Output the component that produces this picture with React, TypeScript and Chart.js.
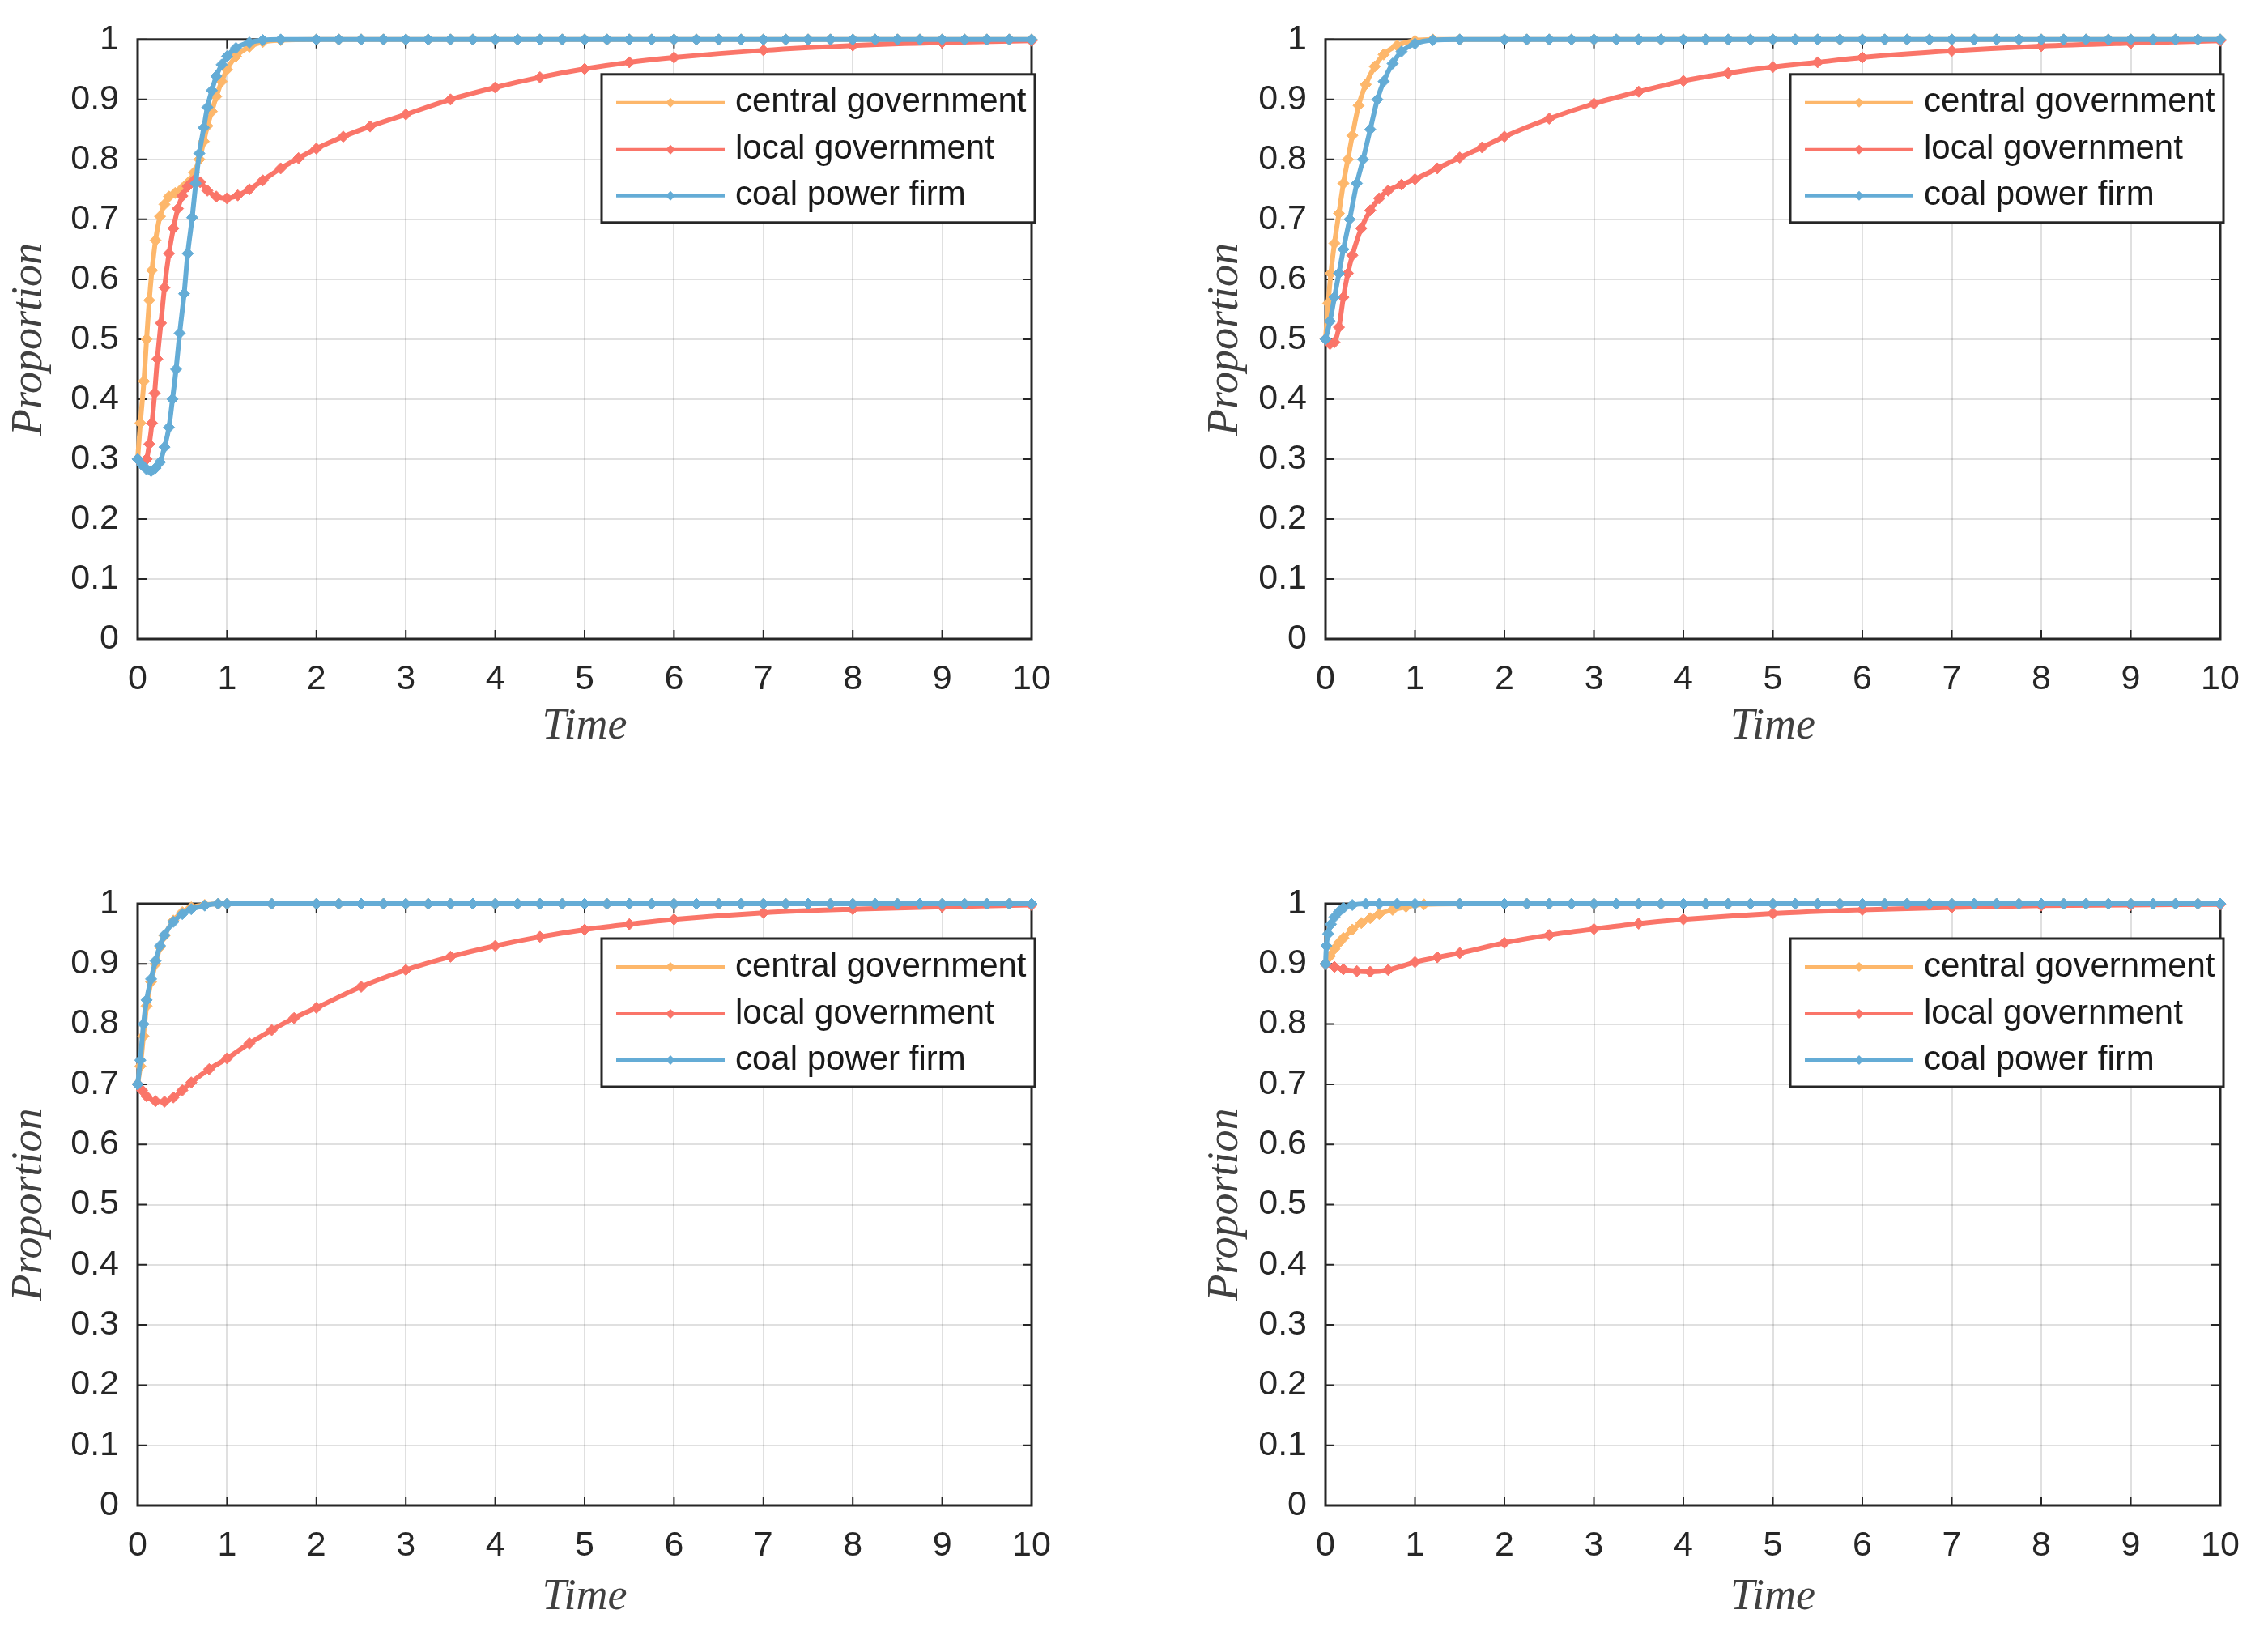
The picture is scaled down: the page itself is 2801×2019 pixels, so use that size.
import React, { useEffect, useRef } from 'react';
import { Chart, registerables } from 'chart.js';

Chart.register(...registerables);

// ---------- labels & ticks ----------
const SERIES_LABELS = ['central government', 'local government', 'coal power firm'];
const X_TICKS = [0, 1, 2, 3, 4, 5, 6, 7, 8, 9, 10];
const Y_TICKS = [0, 0.1, 0.2, 0.3, 0.4, 0.5, 0.6, 0.7, 0.8, 0.9, 1];
const Y_TICK_LABELS = ['0', '0.1', '0.2', '0.3', '0.4', '0.5', '0.6', '0.7', '0.8', '0.9', '1'];
const X_TITLE = 'Time';
const Y_TITLE = 'Proportion';

// ---------- shared flat tail (value 1 after convergence) ----------
const FLAT_T = [2, 2.25, 2.5, 2.75, 3, 3.25, 3.5, 3.75, 4, 4.25, 4.5, 4.75, 5, 5.25, 5.5, 5.75, 6, 6.25, 6.5, 6.75, 7, 7.25, 7.5, 7.75, 8, 8.25, 8.5, 8.75, 9, 9.25, 9.5, 9.75, 10];
const FLAT_V = [1, 1, 1, 1, 1, 1, 1, 1, 1, 1, 1, 1, 1, 1, 1, 1, 1, 1, 1, 1, 1, 1, 1, 1, 1, 1, 1, 1, 1, 1, 1, 1, 1];

// ---------- panel A (initial 0.3) ----------
const A_CG_T = [0, 0.03, 0.07, 0.1, 0.13, 0.16, 0.2, 0.25, 0.3, 0.35, 0.42, 0.5, 0.57, 0.63, 0.69, 0.74, 0.78, 0.83, 0.88, 0.94, 1.0, 1.1, 1.25, 1.4, 1.6];
const A_CG_V = [0.3, 0.36, 0.43, 0.5, 0.565, 0.615, 0.665, 0.705, 0.725, 0.738, 0.744, 0.752, 0.762, 0.778, 0.8, 0.83, 0.856, 0.88, 0.905, 0.93, 0.95, 0.972, 0.988, 0.996, 0.999];
const A_LG_T = [0, 0.05, 0.1, 0.13, 0.16, 0.19, 0.22, 0.26, 0.3, 0.35, 0.4, 0.45, 0.5, 0.56, 0.63, 0.7, 0.78, 0.88, 1.0, 1.12, 1.25, 1.4, 1.6, 1.8, 2.0, 2.3, 2.6, 3.0, 3.5, 4, 4.5, 5, 5.5, 6, 7, 8, 9, 10];
const A_LG_V = [0.3, 0.292, 0.3, 0.325, 0.36, 0.41, 0.467, 0.527, 0.586, 0.643, 0.685, 0.718, 0.739, 0.755, 0.765, 0.762, 0.748, 0.738, 0.735, 0.74, 0.75, 0.765, 0.785, 0.802, 0.818, 0.838, 0.855, 0.875, 0.9, 0.92, 0.937, 0.951, 0.962, 0.97, 0.982, 0.99, 0.995, 0.998];
const A_CF_T = [0, 0.05, 0.1, 0.15, 0.2, 0.25, 0.3, 0.35, 0.39, 0.43, 0.47, 0.52, 0.56, 0.61, 0.65, 0.69, 0.74, 0.78, 0.83, 0.88, 0.94, 1.0, 1.1, 1.25, 1.4, 1.6];
const A_CF_V = [0.3, 0.29, 0.283, 0.28, 0.285, 0.295, 0.32, 0.353, 0.4, 0.45, 0.51, 0.576, 0.643, 0.703, 0.76, 0.81, 0.853, 0.887, 0.915, 0.939, 0.958, 0.972, 0.986, 0.995, 0.999, 1];

// ---------- panel B (initial 0.5) ----------
const B_CG_T = [0, 0.03, 0.06, 0.1, 0.15, 0.2, 0.25, 0.3, 0.37, 0.45, 0.55, 0.65, 0.8, 1.0, 1.2, 1.5];
const B_CG_V = [0.5, 0.56, 0.61, 0.66, 0.71, 0.76, 0.8, 0.84, 0.89, 0.925, 0.955, 0.975, 0.99, 0.998, 1, 1];
const B_LG_T = [0, 0.05, 0.1, 0.15, 0.2, 0.25, 0.3, 0.4, 0.5, 0.6, 0.7, 0.85, 1.0, 1.25, 1.5, 1.75, 2, 2.5, 3, 3.5, 4, 4.5, 5, 5.5, 6, 7, 8, 9, 10];
const B_LG_V = [0.5, 0.492, 0.495, 0.52, 0.57, 0.61, 0.64, 0.685, 0.715, 0.735, 0.748, 0.758, 0.767, 0.785, 0.803, 0.82, 0.838, 0.868, 0.893, 0.913, 0.931, 0.944, 0.954, 0.962, 0.97, 0.981, 0.989, 0.994, 0.998];
const B_CF_T = [0, 0.05, 0.1, 0.15, 0.2, 0.27, 0.35, 0.42, 0.5, 0.58, 0.65, 0.75, 0.85, 1.0, 1.2, 1.5];
const B_CF_V = [0.5, 0.53, 0.57, 0.61, 0.65, 0.7, 0.76, 0.8, 0.85, 0.9, 0.93, 0.96, 0.98, 0.993, 0.999, 1];

// ---------- panel C (initial 0.7) ----------
const C_CG_T = [0, 0.03, 0.065, 0.1, 0.15, 0.2, 0.25, 0.3, 0.4, 0.5, 0.6, 0.75, 0.9, 1.0, 1.5];
const C_CG_V = [0.7, 0.73, 0.78, 0.83, 0.87, 0.9, 0.928, 0.947, 0.972, 0.986, 0.994, 0.998, 1, 1, 1];
const C_LG_T = [0, 0.05, 0.1, 0.2, 0.3, 0.4, 0.5, 0.6, 0.8, 1.0, 1.25, 1.5, 1.75, 2, 2.5, 3, 3.5, 4, 4.5, 5, 5.5, 6, 7, 8, 9, 10];
const C_LG_V = [0.7, 0.69, 0.68, 0.672, 0.671, 0.678, 0.69, 0.703, 0.725, 0.743, 0.768, 0.79, 0.81, 0.827, 0.862, 0.89, 0.912, 0.93, 0.945, 0.957, 0.966, 0.974, 0.985, 0.991, 0.995, 0.998];
const C_CF_T = [0, 0.03, 0.065, 0.1, 0.15, 0.2, 0.25, 0.3, 0.4, 0.5, 0.6, 0.75, 0.9, 1.0, 1.5];
const C_CF_V = [0.7, 0.74, 0.8, 0.84, 0.875, 0.905, 0.93, 0.948, 0.97, 0.983, 0.991, 0.997, 1, 1, 1];

// ---------- panel D (initial 0.9) ----------
const D_CG_T = [0, 0.05, 0.1, 0.15, 0.2, 0.3, 0.4, 0.5, 0.6, 0.75, 0.9, 1.1, 1.5];
const D_CG_V = [0.9, 0.913, 0.925, 0.935, 0.943, 0.957, 0.968, 0.976, 0.983, 0.99, 0.995, 0.999, 1];
const D_LG_T = [0, 0.1, 0.2, 0.35, 0.5, 0.7, 1.0, 1.25, 1.5, 2, 2.5, 3, 3.5, 4, 5, 6, 7, 8, 9, 10];
const D_LG_V = [0.9, 0.895, 0.891, 0.888, 0.887, 0.89, 0.903, 0.911, 0.918, 0.935, 0.948, 0.958, 0.967, 0.974, 0.984, 0.99, 0.994, 0.997, 0.998, 0.999];
const D_CF_T = [0, 0.01, 0.03, 0.06, 0.1, 0.15, 0.2, 0.3, 0.45, 0.6, 0.8, 1.0, 1.5];
const D_CF_V = [0.9, 0.93, 0.95, 0.966, 0.978, 0.987, 0.993, 0.998, 1, 1, 1, 1, 1];

// ---------- styles ----------
const COLORS = ['rgb(253,183,107)', 'rgb(250,117,105)', 'rgb(100,172,214)'];
const DRAW_ORDER = [2, 1, 0]; // blue on top
const TICK_FONT = { family: '"Liberation Sans", Arial, sans-serif', size: 43 };
const TITLE_FONT = { family: '"Liberation Serif", "Times New Roman", serif', size: 54, style: 'italic' as const };
const AXIS_COLOR = '#262626';

type PanelCfg = {
  left: number; top: number; w: number; h: number;
  pl: number; pt: number; pr: number; pb: number;
  yTitlePad: number; xTitlePad: number;
  series: [number[], number[]][];
};

const PANELS: PanelCfg[] = [
  { left: 0, top: 0, w: 1400, h: 1000, pl: 170, pt: 48, pr: 1274, pb: 789, yTitlePad: 4, xTitlePad: 70,
    series: [[A_CG_T.concat(FLAT_T), A_CG_V.concat(FLAT_V)], [A_LG_T, A_LG_V], [A_CF_T.concat(FLAT_T), A_CF_V.concat(FLAT_V)]] },
  { left: 1400, top: 0, w: 1401, h: 1000, pl: 237, pt: 48, pr: 1342, pb: 789, yTitlePad: 81, xTitlePad: 70,
    series: [[B_CG_T.concat(FLAT_T), B_CG_V.concat(FLAT_V)], [B_LG_T, B_LG_V], [B_CF_T.concat(FLAT_T), B_CF_V.concat(FLAT_V)]] },
  { left: 0, top: 1000, w: 1400, h: 1019, pl: 170, pt: 116, pr: 1274, pb: 859, yTitlePad: 4, xTitlePad: 14,
    series: [[C_CG_T.concat(FLAT_T), C_CG_V.concat(FLAT_V)], [C_LG_T, C_LG_V], [C_CF_T.concat(FLAT_T), C_CF_V.concat(FLAT_V)]] },
  { left: 1400, top: 1000, w: 1401, h: 1019, pl: 237, pt: 116, pr: 1342, pb: 859, yTitlePad: 81, xTitlePad: 14,
    series: [[D_CG_T.concat(FLAT_T), D_CG_V.concat(FLAT_V)], [D_LG_T, D_LG_V], [D_CF_T.concat(FLAT_T), D_CF_V.concat(FLAT_V)]] },
];

const boxPlugin = {
  id: 'matlabBox',
  beforeDatasetsDraw(chart: any) {
    const { ctx, chartArea: a, scales } = chart;
    const xs = scales.x, ys = scales.y;
    const L = 11;
    ctx.save();
    ctx.strokeStyle = AXIS_COLOR;
    ctx.lineWidth = 2;
    ctx.beginPath();
    xs.ticks.forEach((t: any) => {
      const px = xs.getPixelForValue(t.value);
      ctx.moveTo(px, a.bottom); ctx.lineTo(px, a.bottom - L);
      ctx.moveTo(px, a.top); ctx.lineTo(px, a.top + L);
    });
    ys.ticks.forEach((t: any) => {
      const py = ys.getPixelForValue(t.value);
      ctx.moveTo(a.left, py); ctx.lineTo(a.left + L, py);
      ctx.moveTo(a.right, py); ctx.lineTo(a.right - L, py);
    });
    ctx.stroke();
    ctx.lineWidth = 3;
    ctx.strokeRect(a.left, a.top, a.right - a.left, a.bottom - a.top);
    ctx.restore();
  },
};

const legendPlugin = {
  id: 'innerLegend',
  afterDatasetsDraw(chart: any) {
    const { ctx, chartArea: a } = chart;
    const W = 535, H = 183;
    const x0 = a.right + 4 - W;
    const y0 = a.top + 43;
    ctx.save();
    ctx.fillStyle = '#ffffff';
    ctx.fillRect(x0, y0, W, H);
    ctx.strokeStyle = AXIS_COLOR;
    ctx.lineWidth = 3;
    ctx.strokeRect(x0, y0, W, H);
    const rows = [35, 93, 150];
    chart.data.datasets.forEach((ds: any, i: number) => {
      const y = y0 + rows[i];
      ctx.strokeStyle = ds.borderColor;
      ctx.lineWidth = 4;
      ctx.beginPath();
      ctx.moveTo(x0 + 18, y);
      ctx.lineTo(x0 + 152, y);
      ctx.stroke();
      const cx = x0 + 85, r = 6;
      ctx.fillStyle = ds.borderColor;
      ctx.beginPath();
      ctx.moveTo(cx, y - r); ctx.lineTo(cx + r, y); ctx.lineTo(cx, y + r); ctx.lineTo(cx - r, y);
      ctx.closePath();
      ctx.fill();
      ctx.fillStyle = '#1a1a1a';
      ctx.font = '42px "Liberation Sans", Arial, sans-serif';
      ctx.textBaseline = 'middle';
      ctx.textAlign = 'left';
      ctx.fillText(ds.label, x0 + 165, y);
    });
    ctx.restore();
  },
};

function Panel({ cfg }: { cfg: PanelCfg }) {
  const ref = useRef<HTMLCanvasElement>(null);
  useEffect(() => {
    const canvas = ref.current!;
    const datasets = cfg.series.map(([t, v], i) => ({
      label: SERIES_LABELS[i],
      data: t.map((tt, k) => ({ x: tt, y: v[k] })),
      borderColor: COLORS[i],
      backgroundColor: COLORS[i],
      pointBackgroundColor: COLORS[i],
      pointBorderColor: COLORS[i],
      borderWidth: 6,
      pointStyle: 'rectRot',
      pointRadius: 7,
      pointBorderWidth: 1,
      cubicInterpolationMode: 'monotone' as const,
      clip: false as any,
      order: DRAW_ORDER[i],
    }));
    const chart = new Chart(canvas, {
      type: 'line',
      data: { datasets },
      options: {
        animation: false,
        responsive: false,
        devicePixelRatio: 1,
        events: [],
        layout: { padding: { left: 0, top: cfg.pt, right: cfg.w - cfg.pr, bottom: 0 } },
        plugins: { legend: { display: false }, tooltip: { enabled: false } },
        scales: {
          x: {
            type: 'linear',
            min: 0,
            max: 10,
            afterBuildTicks: (s: any) => { s.ticks = X_TICKS.map((v) => ({ value: v })); },
            afterFit: (s: any) => { s.height = cfg.h - cfg.pb; },
            ticks: { font: TICK_FONT, color: AXIS_COLOR, padding: 24, maxRotation: 0, autoSkip: false, callback: (v: any) => String(v) },
            grid: { color: 'rgba(0,0,0,0.12)', lineWidth: 2, drawTicks: false },
            border: { display: false },
            title: { display: true, text: X_TITLE, font: TITLE_FONT, color: '#404040', padding: { top: 0, bottom: cfg.xTitlePad } },
          },
          y: {
            type: 'linear',
            min: 0,
            max: 1,
            afterBuildTicks: (s: any) => { s.ticks = Y_TICKS.map((v) => ({ value: v })); },
            afterFit: (s: any) => { s.width = cfg.pl; },
            ticks: { font: TICK_FONT, color: AXIS_COLOR, padding: 23, autoSkip: false, callback: (_v: any, i: number) => Y_TICK_LABELS[i] },
            grid: { color: 'rgba(0,0,0,0.12)', lineWidth: 2, drawTicks: false },
            border: { display: false },
            title: { display: true, text: Y_TITLE, font: TITLE_FONT, color: '#404040', padding: { top: cfg.yTitlePad, bottom: 0 } },
          },
        },
      },
      plugins: [boxPlugin, legendPlugin],
    } as any);
    return () => chart.destroy();
  }, []);
  return (
    <canvas
      ref={ref}
      width={cfg.w}
      height={cfg.h}
      style={{ position: 'absolute', left: cfg.left, top: cfg.top, width: cfg.w, height: cfg.h }}
    />
  );
}

export default function App() {
  return (
    <div style={{ position: 'absolute', left: 0, top: 0, width: 2801, height: 2019, background: '#ffffff', overflow: 'hidden' }}>
      {PANELS.map((p, i) => (
        <Panel key={i} cfg={p} />
      ))}
    </div>
  );
}
